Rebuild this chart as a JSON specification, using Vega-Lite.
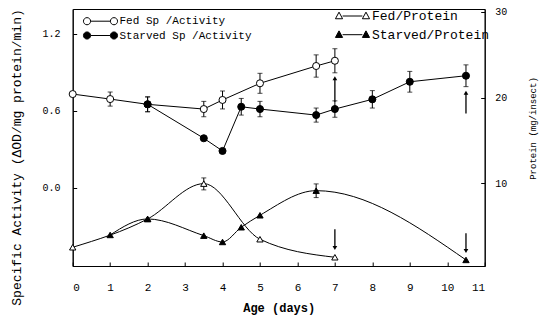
{
  "$schema": "https://vega.github.io/schema/vega-lite/v6.json",
  "width": 412,
  "height": 257,
  "autosize": "none",
  "padding": {"left": 72.7, "top": 9, "right": 56.3, "bottom": 62},
  "background": "white",
  "config": {
    "view": {"stroke": "black", "strokeWidth": 1},
    "font": "Liberation Mono",
    "axis": {
      "grid": false,
      "domainColor": "black",
      "tickColor": "black",
      "labelColor": "black",
      "titleColor": "black",
      "labelFont": "Liberation Mono",
      "titleFont": "Liberation Mono",
      "labelFontSize": 11,
      "tickSize": -4,
      "titleFontWeight": "normal"
    },
    "legend": {
      "labelFont": "Liberation Mono",
      "labelColor": "black",
      "labelLimit": 300,
      "padding": 0
    }
  },
  "datasets": {
    "activity": [
      {"day": 0, "series": "Fed Sp /Activity", "value": 0.731},
      {"day": 1, "series": "Fed Sp /Activity", "value": 0.692, "lo": 0.637, "hi": 0.747},
      {"day": 2, "series": "Fed Sp /Activity", "value": 0.651, "lo": 0.593, "hi": 0.709},
      {"day": 3.5, "series": "Fed Sp /Activity", "value": 0.614, "lo": 0.554, "hi": 0.674},
      {"day": 4, "series": "Fed Sp /Activity", "value": 0.685, "lo": 0.615, "hi": 0.755},
      {"day": 5, "series": "Fed Sp /Activity", "value": 0.815, "lo": 0.737, "hi": 0.893},
      {"day": 6.5, "series": "Fed Sp /Activity", "value": 0.95, "lo": 0.863, "hi": 1.037},
      {"day": 7, "series": "Fed Sp /Activity", "value": 0.991, "lo": 0.897, "hi": 1.085},
      {"day": 2, "series": "Starved Sp /Activity", "value": 0.651, "lo": 0.593, "hi": 0.709},
      {"day": 3.5, "series": "Starved Sp /Activity", "value": 0.386},
      {"day": 4, "series": "Starved Sp /Activity", "value": 0.287},
      {"day": 4.5, "series": "Starved Sp /Activity", "value": 0.632, "lo": 0.567, "hi": 0.697},
      {"day": 5, "series": "Starved Sp /Activity", "value": 0.614, "lo": 0.554, "hi": 0.674},
      {"day": 6.5, "series": "Starved Sp /Activity", "value": 0.567, "lo": 0.512, "hi": 0.622},
      {"day": 7, "series": "Starved Sp /Activity", "value": 0.614, "lo": 0.55, "hi": 0.678},
      {"day": 8, "series": "Starved Sp /Activity", "value": 0.69, "lo": 0.622, "hi": 0.758},
      {"day": 9, "series": "Starved Sp /Activity", "value": 0.827, "lo": 0.746, "hi": 0.908},
      {"day": 10.5, "series": "Starved Sp /Activity", "value": 0.874, "lo": 0.789, "hi": 0.959}
    ],
    "protein": [
      {"day": 0, "series": "Fed/Protein", "value": 2.49},
      {"day": 2, "series": "Fed/Protein", "value": 5.8},
      {"day": 3.5, "series": "Fed/Protein", "value": 9.93, "lo": 9.2, "hi": 10.6},
      {"day": 5, "series": "Fed/Protein", "value": 3.43},
      {"day": 7, "series": "Fed/Protein", "value": 1.32},
      {"day": 1, "series": "Starved/Protein", "value": 3.93},
      {"day": 2, "series": "Starved/Protein", "value": 5.8},
      {"day": 3.5, "series": "Starved/Protein", "value": 3.85},
      {"day": 4, "series": "Starved/Protein", "value": 3.11},
      {"day": 4.5, "series": "Starved/Protein", "value": 4.83},
      {"day": 5, "series": "Starved/Protein", "value": 6.23},
      {"day": 6.5, "series": "Starved/Protein", "value": 9.11, "lo": 8.3, "hi": 9.9},
      {"day": 10.5, "series": "Starved/Protein", "value": 1.01}
    ],
    "arrowsActivity": [
      {"day": 7, "from": 0.671, "to": 0.855},
      {"day": 10.5, "from": 0.58, "to": 0.742}
    ],
    "arrowsProtein": [
      {"day": 7, "from": 4.59, "to": 2.4},
      {"day": 10.5, "from": 4.13, "to": 2.05}
    ]
  },
  "encoding": {
    "x": {
      "field": "day",
      "type": "quantitative",
      "scale": {"domain": [0, 11], "nice": false},
      "axis": {
        "values": [0, 1, 2, 3, 4, 5, 6, 7, 8, 9, 10, 11],
        "title": "Age (days)",
        "titleFontSize": 12,
        "titleFontWeight": "bold",
        "labelFontSize": 11,
        "labelPadding": 19,
        "titleY": 41,
        "titleBaseline": "middle"
      }
    }
  },
  "layer": [
    {
      "layer": [
        {
          "data": {"name": "activity"},
          "mark": {"type": "line", "color": "black", "strokeWidth": 1},
          "encoding": {
            "y": {
              "field": "value",
              "type": "quantitative",
              "scale": {"domain": [-0.611, 1.395], "nice": false, "zero": false},
              "axis": {
                "values": [0, 0.6, 1.2],
                "format": ".1f",
                "title": "Specific Activity (ΔOD/mg protein/min)",
                "titleFontSize": 13,
                "titleX": -56,
                "titleY": 148,
                "titleBaseline": "middle",
                "labelFontSize": 10,
                "labelPadding": 16.7
              }
            },
            "detail": {"field": "series"}
          }
        },
        {
          "data": {"name": "activity"},
          "transform": [{"filter": "isValid(datum.lo)"}],
          "mark": {"type": "errorbar", "color": "black", "ticks": {"size": 5, "color": "black"}},
          "encoding": {
            "y": {
              "field": "lo",
              "type": "quantitative",
              "scale": {"domain": [-0.611, 1.395], "nice": false, "zero": false},
              "axis": {
                "values": [0, 0.6, 1.2],
                "format": ".1f",
                "title": "Specific Activity (ΔOD/mg protein/min)",
                "titleFontSize": 13,
                "titleX": -56,
                "titleY": 148,
                "titleBaseline": "middle",
                "labelFontSize": 10,
                "labelPadding": 16.7
              }
            },
            "y2": {"field": "hi"}
          }
        },
        {
          "data": {"name": "arrowsActivity"},
          "mark": {"type": "rule", "color": "black", "strokeWidth": 1.3},
          "encoding": {
            "y": {"field": "from", "type": "quantitative"},
            "y2": {"field": "to"}
          }
        },
        {
          "data": {"name": "arrowsActivity"},
          "mark": {"type": "point", "shape": "triangle-up", "filled": true, "color": "black", "size": 22, "opacity": 1},
          "encoding": {
            "y": {"field": "to", "type": "quantitative"}
          }
        },
        {
          "data": {"name": "activity"},
          "mark": {"type": "point", "shape": "circle", "filled": true, "stroke": "black", "strokeWidth": 1, "size": 50, "opacity": 1},
          "encoding": {
            "y": {"field": "value", "type": "quantitative"},
            "fill": {
              "field": "series",
              "type": "nominal",
              "scale": {"domain": ["Fed Sp /Activity", "Starved Sp /Activity"], "range": ["white", "black"]},
              "legend": {
                "title": null,
                "orient": "none",
                "legendX": 21.8,
                "legendY": 6.2,
                "symbolType": "M-3.1,0 A0.65,0.65 0 1,1 -1.8,0 A0.65,0.65 0 1,1 -3.1,0 Z M-1.8,0 L1.8,0 M1.8,0 A0.65,0.65 0 1,1 3.1,0 A0.65,0.65 0 1,1 1.8,0 Z",
                "symbolSize": 121,
                "symbolStrokeColor": "black",
                "symbolStrokeWidth": 1,
                "labelFontSize": 11,
                "labelOffset": 13,
                "rowPadding": 2.3,
                "encode": {"symbols": {"update": {"shape": {"value": "M-3.1,0 A0.65,0.65 0 1,1 -1.8,0 A0.65,0.65 0 1,1 -3.1,0 Z M-1.8,0 L1.8,0 M1.8,0 A0.65,0.65 0 1,1 3.1,0 A0.65,0.65 0 1,1 1.8,0 Z"}, "stroke": {"value": "black"}, "opacity": {"value": 1}}}}
              }
            }
          }
        }
      ]
    },
    {
      "layer": [
        {
          "data": {"name": "protein"},
          "mark": {"type": "line", "color": "black", "strokeWidth": 1, "interpolate": "monotone"},
          "encoding": {
            "y": {
              "field": "value",
              "type": "quantitative",
              "scale": {"domain": [0.3, 30.35], "nice": false, "zero": false},
              "axis": {
                "orient": "right",
                "values": [0, 10, 20, 30],
                "title": "Protein (mg/insect)",
                "titleFontSize": 9,
                "titleAngle": 270,
                "titleX": 48,
                "titleY": 119,
                "titleBaseline": "middle",
                "labelFontSize": 10,
                "labelPadding": 14
              }
            },
            "detail": {"field": "series"}
          }
        },
        {
          "data": {"name": "protein"},
          "transform": [{"filter": "isValid(datum.lo)"}],
          "mark": {"type": "errorbar", "color": "black", "ticks": {"size": 5, "color": "black"}},
          "encoding": {
            "y": {
              "field": "lo",
              "type": "quantitative",
              "scale": {"domain": [0.3, 30.35], "nice": false, "zero": false},
              "axis": {
                "orient": "right",
                "values": [0, 10, 20, 30],
                "title": "Protein (mg/insect)",
                "titleFontSize": 9,
                "titleAngle": 270,
                "titleX": 48,
                "titleY": 119,
                "titleBaseline": "middle",
                "labelFontSize": 10,
                "labelPadding": 14
              }
            },
            "y2": {"field": "hi"}
          }
        },
        {
          "data": {"name": "arrowsProtein"},
          "mark": {"type": "rule", "color": "black", "strokeWidth": 1.3},
          "encoding": {
            "y": {"field": "from", "type": "quantitative"},
            "y2": {"field": "to"}
          }
        },
        {
          "data": {"name": "arrowsProtein"},
          "mark": {"type": "point", "shape": "triangle-down", "filled": true, "color": "black", "size": 22, "opacity": 1},
          "encoding": {
            "y": {"field": "to", "type": "quantitative"}
          }
        },
        {
          "data": {"name": "protein"},
          "mark": {"type": "point", "shape": "triangle-up", "filled": true, "stroke": "black", "strokeWidth": 1, "size": 40, "opacity": 1},
          "encoding": {
            "y": {"field": "value", "type": "quantitative"},
            "fill": {
              "field": "series",
              "type": "nominal",
              "scale": {"domain": ["Fed/Protein", "Starved/Protein"], "range": ["white", "black"]},
              "legend": {
                "title": null,
                "orient": "none",
                "legendX": 273.3,
                "legendY": 0.5,
                "symbolType": "M-3.1,0.5 L-2.45,-0.7 L-1.8,0.5 Z M-1.8,0 L1.8,0 M1.8,0.5 L2.45,-0.7 L3.1,0.5 Z",
                "symbolSize": 121,
                "symbolStrokeColor": "black",
                "symbolStrokeWidth": 1,
                "labelFontSize": 13,
                "labelOffset": 13,
                "rowPadding": 4.7,
                "encode": {"symbols": {"update": {"shape": {"value": "M-3.1,0.5 L-2.45,-0.7 L-1.8,0.5 Z M-1.8,0 L1.8,0 M1.8,0.5 L2.45,-0.7 L3.1,0.5 Z"}, "stroke": {"value": "black"}, "opacity": {"value": 1}}}}
              }
            }
          }
        }
      ]
    }
  ],
  "resolve": {
    "scale": {"y": "independent", "fill": "independent"},
    "legend": {"fill": "independent"}
  }
}
